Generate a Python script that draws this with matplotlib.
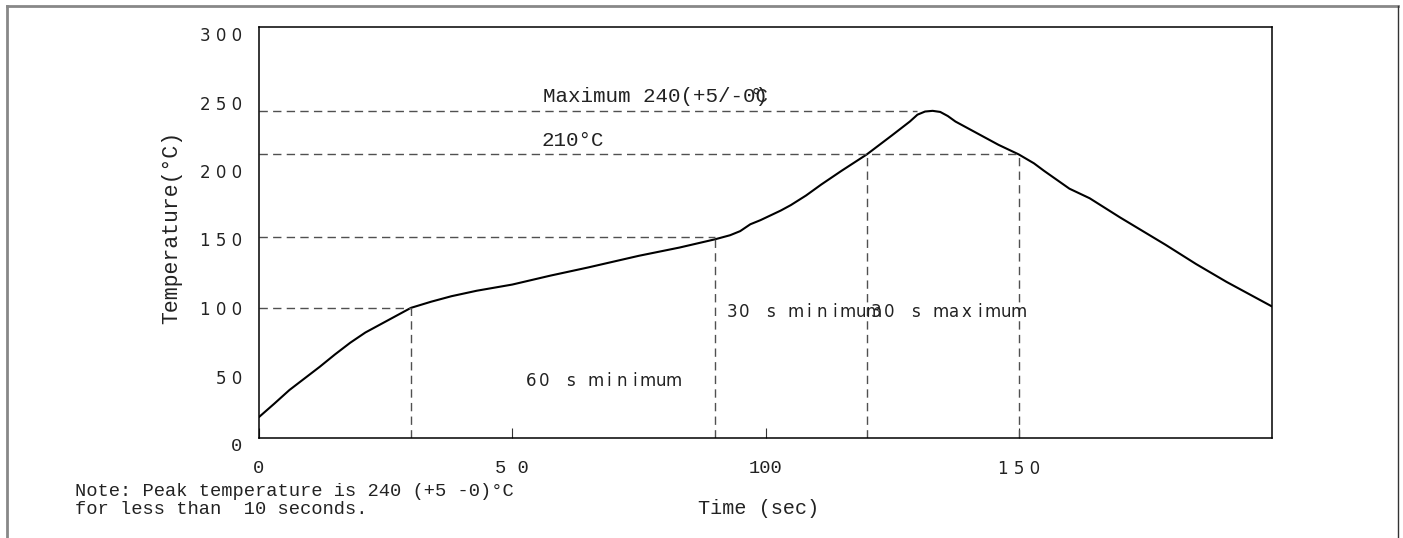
# Reflow soldering profile (temperature vs time) redrawn from a datasheet figure
import matplotlib
matplotlib.use('Agg')
import matplotlib.pyplot as plt
from matplotlib.lines import Line2D
from matplotlib.transforms import offset_copy

# curve: time (s), temperature (C)
time_s = [0, 3, 6, 9, 12, 15, 18, 21, 24, 27, 30, 34, 38, 43, 50, 57.5, 65, 75, 83, 90,
          93, 95, 97, 99, 101, 103, 105, 108, 111, 115, 120, 125, 128.5, 130, 131.5, 133,
          134.5, 136, 137.5, 142, 146, 150, 153, 155, 157.5, 160, 164, 170, 179, 185, 191,
          196, 200]
temp_c = [15.3, 25, 35, 43.5, 52, 61, 69.5, 77, 83, 89, 95, 99.5, 103.5, 107.5, 112, 118.5,
          124.5, 133, 139, 145, 148, 151, 156, 159, 162.5, 166, 170, 177, 185, 195, 207, 221,
          231, 236, 238.3, 238.8, 238, 235, 231, 222, 214, 207, 200.5, 195, 188.5, 182, 175,
          161, 141, 127, 114, 104, 96]

# guide lines: level, x where the horizontal dash stops
h_levels = [95, 147, 207, 239]
h_ends = [30, 90, 150, 130]
# vertical guides: x, top
v_pos = [30, 90, 120, 150]
v_tops = [95, 147, 207, 207]

x_ticks = [0, 50, 100, 150]
x_labels = ['0', '5 0', '100', '1 5 0']
y_ticks = [0, 50, 100, 150, 200, 250, 300]
y_labels = ['0', '5 0', '1 0 0', '1 5 0', '2 0 0', '2 5 0', '3 0 0']

MONO = 'Liberation Mono'
SANS = 'DejaVu Sans'
DASH = (6.0, 3.8)
GREY = '#505050'
INK = '#222222'


def spaced_text(ax, fig, x, y, s, pitch, size=12):
    """draw text one char at a time with a fixed pitch (pixels)"""
    for i, ch in enumerate(s):
        if ch == ' ':
            continue
        tr = offset_copy(ax.transData, fig=fig, x=i * pitch, y=0, units='dots')
        ax.text(x, y, ch, transform=tr, ha='center', va='center',
                fontsize=size, family=SANS, color=INK)


fig = plt.figure(figsize=(14.03, 5.38), dpi=100)
ax = fig.add_axes([259 / 1403, 100 / 538, 1013 / 1403, 411 / 538])

ax.plot(time_s, temp_c, color='black', linewidth=1.5, solid_capstyle='round',
        solid_joinstyle='round')

for lev, end in zip(h_levels, h_ends):
    ax.plot([0, end], [lev, lev], color=GREY, linewidth=1.0, dashes=DASH)
for xp, top in zip(v_pos, v_tops):
    ax.plot([xp, xp], [0, top], color=GREY, linewidth=1.0, dashes=DASH)

ax.set_xlim(0, 200)
ax.set_ylim(0, 300)

ax.set_xticks(x_ticks)
ax.set_xticklabels(x_labels)
for lab in ax.get_xticklabels():
    lab.set_family(SANS if lab.get_text() == '1 5 0' else MONO)
    lab.set_fontsize(12 if lab.get_text() == '1 5 0' else 13.5)
    lab.set_color(INK)
ax.tick_params(axis='x', direction='in', length=7, width=0.8, pad=16, color='#333333')

ax.set_yticks(y_ticks)
ax.set_yticklabels(y_labels)
for lab in ax.get_yticklabels():
    lab.set_family(MONO if lab.get_text() == '0' else SANS)
    lab.set_fontsize(13.5 if lab.get_text() == '0' else 12)
    lab.set_color(INK)
    lab.set_verticalalignment('top')
ax.tick_params(axis='y', length=0, pad=12)

for sp in ax.spines.values():
    sp.set_linewidth(1.1)
    sp.set_color('black')

# axis titles
ax.text(-0.0859, 0.513, 'Temperature(\u00b0C)', transform=ax.transAxes, rotation=90,
        ha='center', va='center', family=MONO, fontsize=15.5, color=INK)
ax.text(0.493, -0.172, 'Time (sec)', transform=ax.transAxes, ha='center', va='center',
        family=MONO, fontsize=14.5, color=INK)

# annotations; the reference draws the degree sign and C on top of "0)"
ax.text(56.1, 249, 'Maximum 240(+5/-0)', ha='left', va='center', family=MONO, fontsize=15,
        color=INK)
ax.text(56.1, 249, '                 C', ha='left', va='center', family=MONO, fontsize=15,
        color=INK)
deg_tr = offset_copy(ax.transData, fig=fig, x=7, y=0, units='dots')
ax.text(56.1, 249, '                \u00b0', transform=deg_tr, ha='left', va='center',
        family=MONO, fontsize=15, color=INK)
ax.text(55.7, 217.5, '210\u00b0C', ha='left', va='center', family=MONO, fontsize=15,
        color=INK)

spaced_text(ax, fig, 53.8, 41.6, '60 s minimum', 12.9)
spaced_text(ax, fig, 93.3, 92, '30 s minimum', 12.9)
spaced_text(ax, fig, 121.9, 92, '30 s maximum', 12.9)

# note under the chart
fig.text(75 / 1403, 1 - 491 / 538, 'Note: Peak temperature is 240 (+5 -0)\u00b0C',
         ha='left', va='center', family=MONO, fontsize=13.5, color=INK)
fig.text(75 / 1403, 1 - 509 / 538, 'for less than  10 seconds.',
         ha='left', va='center', family=MONO, fontsize=13.5, color=INK)

# page frame around the figure
fig.add_artist(Line2D([7 / 1403, 1398 / 1403], [1 - 6 / 538, 1 - 6 / 538],
                      transform=fig.transFigure, color='#888888', linewidth=2))
fig.add_artist(Line2D([7 / 1403, 7 / 1403], [0, 1 - 6 / 538],
                      transform=fig.transFigure, color='#888888', linewidth=2))
fig.add_artist(Line2D([1398 / 1403, 1398 / 1403], [0, 1 - 6 / 538],
                      transform=fig.transFigure, color='#333333', linewidth=1))

fig.savefig('out.png', dpi=100)
